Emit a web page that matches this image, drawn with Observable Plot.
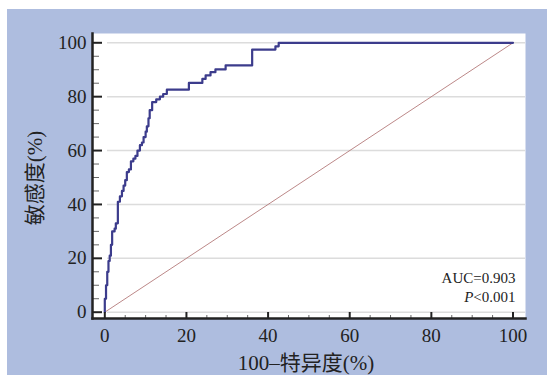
<!DOCTYPE html>
<html><head><meta charset="utf-8">
<script src="https://cdn.jsdelivr.net/npm/d3@7"></script>
<script src="https://cdn.jsdelivr.net/npm/@observablehq/plot@0.6"></script>
<style>
html,body{margin:0;padding:0;background:#fff;}
#wrap{position:relative;width:547px;height:383px;overflow:hidden;}
#bg{position:absolute;left:7px;top:9px;width:540px;height:366px;background:#aebddf;}
#chart{position:absolute;left:0;top:0;}
</style></head><body>
<div id="wrap"><div id="bg"></div><div id="chart"></div></div>
<script>
// ROC curve corner points (100 - specificity, sensitivity), step-after
const fpr = [0, 0, 0.3, 0.6, 0.9, 1.2, 1.5, 1.8, 2.4, 2.7, 3.2, 3.7, 4.2, 4.6, 5.0, 5.4, 5.9, 6.4, 7.0, 7.5, 8.0, 8.6, 9.1, 9.5, 10.0, 10.3, 10.7, 11.0, 11.6, 12.6, 13.5, 14.3, 15.2, 20.6, 23.9, 24.7, 25.9, 27.1, 29.6, 36.1, 41.8, 42.6, 100];
const tpr = [0, 5, 10, 15, 19, 21, 25, 30, 31, 33, 41, 43, 45, 47, 49, 52, 53, 56, 57, 58, 60, 62, 63, 65, 67, 69, 72, 75, 78, 79, 80, 81, 82.6, 85.1, 86.6, 87.9, 89.1, 90.1, 91.6, 97.5, 98.7, 100, 100];
const diagX = [0, 100];
const diagY = [0, 100];
const xMajor = [0, 20, 40, 60, 80, 100];
const yMajor = [0, 20, 40, 60, 80, 100];
const minorTicks = [5, 10, 15, 25, 30, 35, 45, 50, 55, 65, 70, 75, 85, 90, 95];
const xTitle = "100–特异度(%)";
const yTitle = "敏感度(%)";
const aucText = "AUC=0.903";
const pLetter = "P";
const pRest = "<0.001";

const roc = fpr.map((x, i) => ({x, y: tpr[i]}));
const diag = diagX.map((x, i) => ({x, y: diagY[i]}));
const ink = "#222";

const chart = Plot.plot({
  width: 547, height: 383,
  marginLeft: 92, marginRight: 22, marginTop: 33, marginBottom: 65,
  style: {background: "transparent", fontFamily: "'Liberation Serif', 'Noto Sans CJK SC', serif", color: ink},
  x: {domain: [0, 100], range: [104.3, 512.5]},
  y: {domain: [0, 100], range: [311.7, 42.3]},
  marks: [
    Plot.frame({fill: "white", stroke: null}),
    Plot.gridY(yMajor, {stroke: "#dcdcdc", strokeOpacity: 1, strokeWidth: 1.5, insetLeft: 15}),
    Plot.line(diag, {x: "x", y: "y", stroke: "#b47a7a", strokeWidth: 0.9}),
    Plot.line(roc, {x: "x", y: "y", curve: "step-after", stroke: "#3c3c8c", strokeWidth: 2.2}),
    Plot.axisX(minorTicks, {tickSize: -3, fill: "none", label: null, stroke: "#666", strokeWidth: 1}),
    Plot.axisX(xMajor, {tickSize: -6, fill: "none", label: null, stroke: ink, strokeWidth: 2}),
    Plot.axisY(minorTicks, {tickSize: -7, fill: "none", label: null, stroke: "#666", strokeWidth: 1}),
    Plot.axisY(yMajor, {tickSize: -10, fill: "none", label: null, stroke: ink, strokeWidth: 2}),
    Plot.axisX(xMajor, {tickSize: 0, tickPadding: 10, fontSize: 19, label: null, fill: ink}),
    Plot.axisY(yMajor, {tickSize: 0, tickPadding: 6, fontSize: 19, label: null, fill: ink}),
    Plot.frame({anchor: "left", stroke: ink, strokeWidth: 2.5}),
    Plot.frame({anchor: "bottom", stroke: ink, strokeWidth: 2.5}),
    Plot.text([xTitle], {text: d => d, frameAnchor: "bottom", textAnchor: "middle", lineAnchor: "middle", dx: -3, dy: 45, fontSize: 21, fill: ink}),
    Plot.text([yTitle], {text: d => d, frameAnchor: "left", textAnchor: "middle", lineAnchor: "middle", rotate: -90, dx: -57, dy: 2, fontSize: 21, fill: ink}),
    Plot.text([aucText], {text: d => d, frameAnchor: "bottom-right", textAnchor: "end", lineAnchor: "middle", dx: -10, dy: -40, fontSize: 15, fill: ink}),
    Plot.text([pLetter], {text: d => d, frameAnchor: "bottom-right", textAnchor: "end", lineAnchor: "middle", dx: -52, dy: -21, fontSize: 15, fontStyle: "italic", fill: ink}),
    Plot.text([pRest], {text: d => d, frameAnchor: "bottom-right", textAnchor: "end", lineAnchor: "middle", dx: -10, dy: -21, fontSize: 15, fill: ink})
  ]
});
document.getElementById("chart").appendChild(chart);
</script>
</body></html>
